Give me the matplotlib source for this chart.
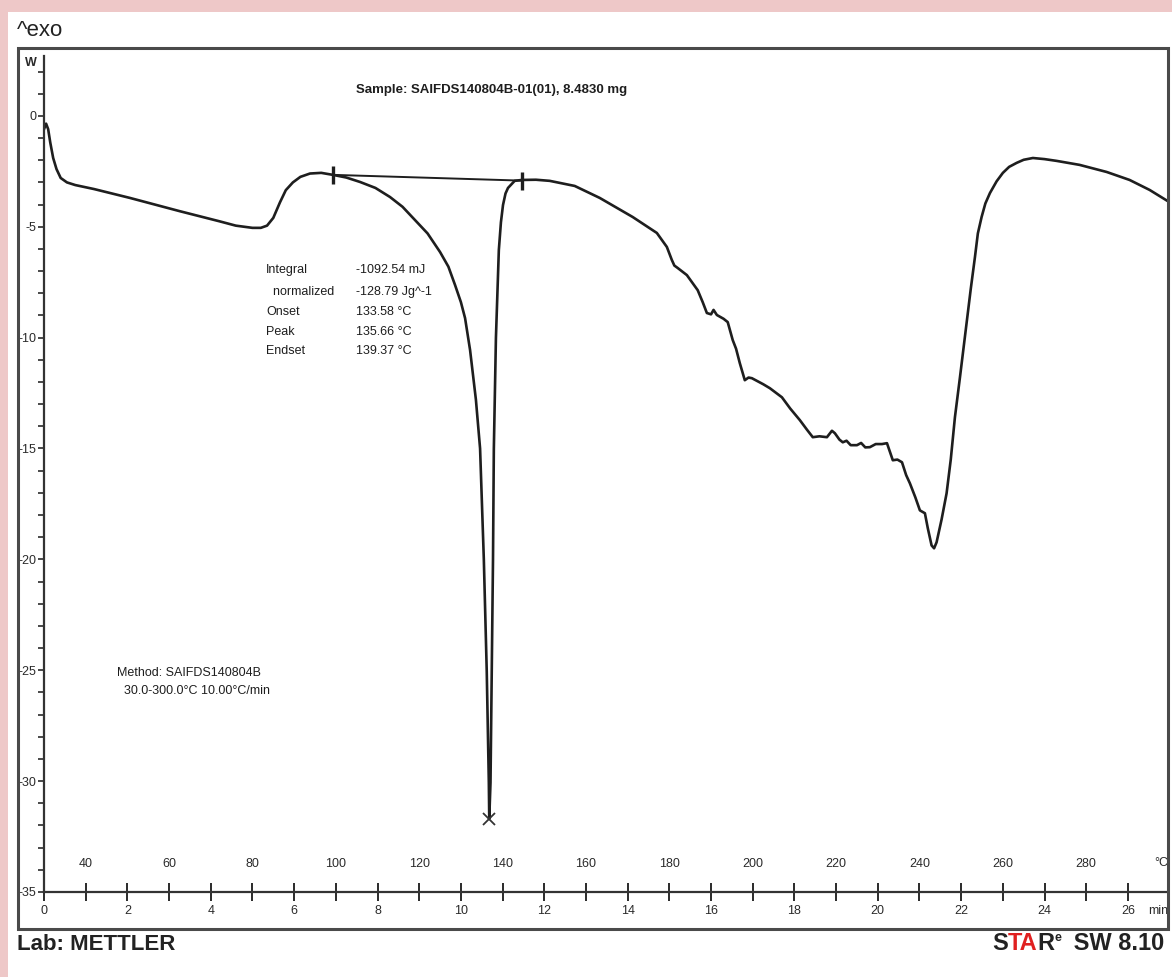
import matplotlib
matplotlib.use('Agg')
import matplotlib.pyplot as plt
from matplotlib.patches import Rectangle
from matplotlib.ticker import MultipleLocator

plt.rcParams['font.family'] = ['Liberation Sans Narrow', 'Liberation Sans', 'DejaVu Sans']

# DSC curve: time in min, heat flow
time_min = [0.00, 0.05, 0.10, 0.15, 0.22, 0.30, 0.40, 0.55, 0.75, 1.20, 2.06, 3.26,
            4.20, 4.60, 5.00, 5.20, 5.35, 5.50, 5.66, 5.80, 5.97, 6.15, 6.38, 6.65,
            6.93, 7.25, 7.58, 7.95, 8.30, 8.60, 8.90, 9.20, 9.50, 9.70, 9.86, 10.00,
            10.10, 10.22, 10.36, 10.46, 10.55, 10.62, 10.67, 10.68, 10.71, 10.74,
            10.77, 10.79, 10.84, 10.91, 10.96, 11.01, 11.07, 11.13, 11.29, 11.46,
            11.80, 12.13, 12.73, 13.33, 14.12, 14.70, 14.94, 15.06, 15.12, 15.20,
            15.42, 15.68, 15.80, 15.90, 16.00, 16.06, 16.14, 16.30, 16.40, 16.52,
            16.60, 16.69, 16.81, 16.90, 16.98, 17.10, 17.25, 17.41, 17.70, 17.90,
            18.13, 18.30, 18.44, 18.60, 18.78, 18.90, 18.97, 19.08, 19.16, 19.25,
            19.35, 19.50, 19.60, 19.70, 19.81, 19.95, 20.10, 20.22, 20.30, 20.36,
            20.47, 20.58, 20.68, 20.77, 20.90, 21.01, 21.13, 21.20, 21.29, 21.35,
            21.41, 21.53, 21.65, 21.75, 21.85, 21.97, 22.13, 22.23, 22.33, 22.40,
            22.49, 22.58, 22.69, 22.85, 23.00, 23.15, 23.33, 23.50, 23.72, 24.00,
            24.29, 24.84, 25.49, 26.04, 26.52, 26.96]
heat_flow = [-0.60, -0.35, -0.60, -1.20, -1.90, -2.40, -2.80, -3.00, -3.12, -3.30, -3.70, -4.30,
             -4.75, -4.95, -5.05, -5.05, -4.95, -4.60, -3.90, -3.35, -3.00, -2.75, -2.60, -2.57,
             -2.66, -2.78, -2.98, -3.25, -3.66, -4.10, -4.70, -5.30, -6.14, -6.80, -7.63, -8.40,
             -9.12, -10.56, -12.80, -15.00, -20.00, -25.06, -30.07, -31.70, -30.07, -25.06,
             -20.00, -15.03, -10.02, -6.05, -4.80, -4.02, -3.50, -3.25, -2.93, -2.89,
             -2.88, -2.93, -3.16, -3.70, -4.56, -5.28, -5.91, -6.50, -6.75, -6.86,
             -7.18, -7.86, -8.40, -8.89, -8.95, -8.75, -8.98, -9.15, -9.30, -10.11,
             -10.50, -11.15, -11.92, -11.80, -11.83, -11.95, -12.10, -12.28, -12.69, -13.20,
             -13.72, -14.15, -14.49, -14.45, -14.49, -14.20, -14.31, -14.60, -14.72, -14.65,
             -14.85, -14.85, -14.75, -14.95, -14.94, -14.80, -14.80, -14.76, -15.20, -15.53,
             -15.50, -15.62, -16.20, -16.57, -17.20, -17.79, -17.92, -18.60, -19.37, -19.50,
             -19.23, -18.20, -17.02, -15.50, -13.59, -11.80, -9.35, -7.80, -6.37, -5.30,
             -4.56, -3.95, -3.48, -2.95, -2.57, -2.30, -2.12, -1.98, -1.90, -1.95,
             -2.03, -2.21, -2.53, -2.89, -3.34, -3.85]

# integration limits (baseline) and peak marker
limit_t = [6.93, 11.46]
limit_y = [-2.66, -2.92]
peak_t = 10.68
peak_y = -31.7

time_ticks = list(range(0, 27, 2))
temp_ticks = list(range(40, 300, 20))
hf_ticks = [0, -5, -10, -15, -20, -25, -30, -35]

result_names = ['Integral', '  normalized', 'Onset', 'Peak', 'Endset']
result_values = ['-1092.54 mJ', '-128.79 Jg^-1', '133.58 °C', '135.66 °C', '139.37 °C']
sample_text = 'Sample: SAIFDS140804B-01(01), 8.4830 mg'
method_text = ['Method: SAIFDS140804B', '  30.0-300.0°C 10.00°C/min']

W, H = 1172, 977
ink = '#1e1e1e'
axis_col = '#2a2a2a'

def fx(px):
    return px / W

def fy(py):
    return 1 - py / H

fig = plt.figure(figsize=(W / 100, H / 100), dpi=100, facecolor='#eec8c8')
fig.patches.append(Rectangle((fx(8), 0), 1, fy(12), transform=fig.transFigure,
                             facecolor='white', edgecolor='none', zorder=-5))
fig.patches.append(Rectangle((fx(18), fy(929)), (1168 - 18) / W, (929 - 48) / H,
                             transform=fig.transFigure, fill=False,
                             edgecolor='#4a4a4a', lw=2.2, zorder=5))

ax = fig.add_axes([fx(44), fy(892), 1124 / W, 836 / H])
ax.patch.set_alpha(0)
ax.set_xlim(0, 1124 / 41.69)
ax.set_ylim(-35, 2.7)
for s in ['top', 'right']:
    ax.spines[s].set_visible(False)
for s in ['left', 'bottom']:
    ax.spines[s].set_color('#333333')
    ax.spines[s].set_linewidth(1.6)

ax.plot(time_min, heat_flow, color=ink, lw=1.9)
ax.plot(limit_t, limit_y, color=ink, lw=1.4)
ax.plot(limit_t, limit_y, ls='none', marker='|', ms=13, mew=2.4, color=ink)
ax.plot([peak_t], [peak_y], ls='none', marker='x', ms=9, mew=1.3, color='#333333')

ax.set_yticks(hf_ticks)
ax.set_yticklabels([str(v) for v in hf_ticks])
ax.yaxis.set_minor_locator(MultipleLocator(1))
ax.tick_params(axis='y', which='both', direction='out', length=4.5, width=1.2,
               labelsize=9, pad=1, colors=axis_col)

ax.set_xticks(time_ticks)
ax.set_xticklabels([str(v) for v in time_ticks])
ax.xaxis.set_minor_locator(MultipleLocator(1))
ax.tick_params(axis='x', which='both', direction='inout', length=13, width=1.4,
               labelsize=9, pad=3, colors=axis_col)

secax = ax.secondary_xaxis('bottom', functions=(lambda t: 30 + 10 * t,
                                                lambda T: (T - 30) / 10))
secax.set_xticks(temp_ticks)
secax.set_xticklabels([str(v) for v in temp_ticks])
secax.tick_params(length=0, pad=-24.5, labelsize=9, colors=axis_col)
secax.spines['bottom'].set_visible(False)

# unit labels
fig.text(fx(1168), fy(863), '°C', ha='right', va='center', fontsize=9, color=axis_col)
fig.text(fx(1168), fy(911), 'min', ha='right', va='center', fontsize=9, color=axis_col)
fig.text(fx(25), fy(63), 'W', ha='left', va='center', fontsize=9, weight='bold', color=axis_col)

fig.text(fx(356), fy(90), sample_text, ha='left', va='center', fontsize=9.5,
         weight='bold', color=ink)
for i, (n, v) in enumerate(zip(result_names, result_values)):
    yy = [270, 292, 312, 332, 351][i]
    fig.text(fx(266), fy(yy), n, ha='left', va='center', fontsize=9, color=ink)
    fig.text(fx(356), fy(yy), v, ha='left', va='center', fontsize=9, color=ink)
fig.text(fx(117), fy(673), method_text[0], ha='left', va='center', fontsize=9, color=ink)
fig.text(fx(117), fy(691), method_text[1], ha='left', va='center', fontsize=9, color=ink)

big = ['Liberation Sans', 'DejaVu Sans']
fig.text(fx(17), fy(30), '^exo', ha='left', va='center', fontsize=16, family=big, color='#222222')
fig.text(fx(17), fy(944), 'Lab: METTLER', ha='left', va='center', fontsize=16,
         weight='bold', family=big, color='#222222')

t1 = fig.text(fx(992), fy(944), 'S', ha='left', va='center', fontsize=17,
              weight='bold', family=big, color='#222222')
t2 = ax.annotate('TA', xy=(1, 0), xycoords=t1, ha='left', va='bottom', fontsize=17,
                 weight='bold', family=big, color='#e02020', annotation_clip=False)
t3 = ax.annotate('R', xy=(1, 0), xycoords=t2, ha='left', va='bottom', fontsize=17,
                 weight='bold', family=big, color='#222222', annotation_clip=False)
t4 = ax.annotate('e', xy=(1, 0.5), xycoords=t3, ha='left', va='bottom', fontsize=9,
                 weight='bold', family=big, color='#222222', annotation_clip=False)
ax.annotate(' SW 8.10', xy=(1, 0), xycoords=t3, xytext=(9, 0), textcoords='offset points',
            ha='left', va='bottom', fontsize=17, weight='bold', family=big,
            color='#222222', annotation_clip=False)

fig.savefig('out.png', dpi=100, facecolor=fig.get_facecolor())
